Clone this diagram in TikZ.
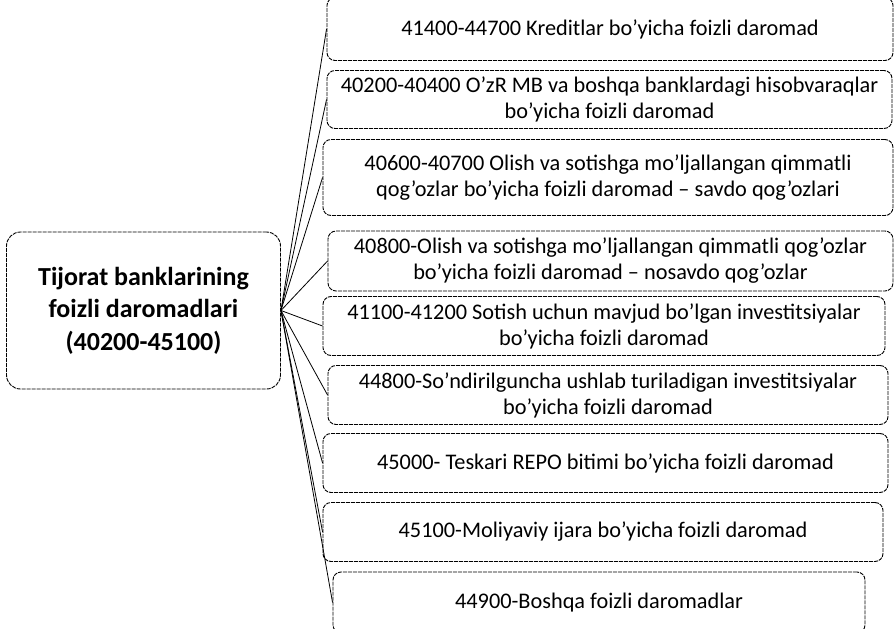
\documentclass[tikz,border=0pt]{standalone}
\usepackage{fontspec}
\setmainfont{Carlito}
\begin{document}
\begin{tikzpicture}[x=1pt,y=-1pt,
  box/.style={draw=black,line width=0.9pt,dash pattern=on 4pt off 1pt,rounded corners=8pt,
    inner sep=0pt,align=center,font=\fontsize{22.3}{26}\selectfont},
  mainbox/.style={draw=black,line width=0.9pt,dash pattern=on 4pt off 1pt,rounded corners=14pt,
    inner sep=0pt,align=center,font=\bfseries\fontsize{26}{32.5}\selectfont},
  link/.style={draw=black,line width=0.8pt}]
\clip (0,0) rectangle (895,629);
\useasboundingbox (0,0) rectangle (895,629);
\node[mainbox,minimum width=274pt,minimum height=157pt] (m) at (143.5,310.5)
  {Tijorat banklarining\\foizli daromadlari\\(40200-45100)};
\node[box,minimum width=566pt,minimum height=63pt] (b1) at (610,29)
  {41400-44700 Kreditlar bo’yicha foizli daromad};
\node[box,minimum width=565pt,minimum height=58pt] (b2) at (609.5,99.5)
  {40200-40400 O’zR MB va boshqa banklardagi hisobvaraqlar\\bo’yicha foizli daromad};
\node[box,minimum width=570pt,minimum height=76pt] (b3) at (608,177.5)
  {40600-40700 Olish va sotishga mo’ljallangan qimmatli\\qog’ozlar bo’yicha foizli daromad – savdo qog’ozlari};
\node[box,minimum width=565pt,minimum height=60pt] (b4) at (610.5,261)
  {40800-Olish va sotishga mo’ljallangan qimmatli qog’ozlar\\bo’yicha foizli daromad – nosavdo qog’ozlar};
\node[box,minimum width=562pt,minimum height=59pt] (b5) at (604,326)
  {41100-41200 Sotish uchun mavjud bo’lgan investitsiyalar\\bo’yicha foizli daromad};
\node[box,minimum width=560pt,minimum height=59pt] (b6) at (608,395)
  {44800-So’ndirilguncha ushlab turiladigan investitsiyalar\\bo’yicha foizli daromad};
\node[box,minimum width=565pt,minimum height=59pt] (b7) at (605.5,463)
  {45000- Teskari REPO bitimi bo’yicha foizli daromad};
\node[box,minimum width=560pt,minimum height=59pt] (b8) at (603,532)
  {45100-Moliyaviy ijara bo’yicha foizli daromad};
\node[box,minimum width=532pt,minimum height=61pt] (b9) at (599,602.5)
  {44900-Boshqa foizli daromadlar};
\foreach \i in {1,...,9}{\draw[link] (m.east) -- (b\i.west);}
\end{tikzpicture}
\end{document}
